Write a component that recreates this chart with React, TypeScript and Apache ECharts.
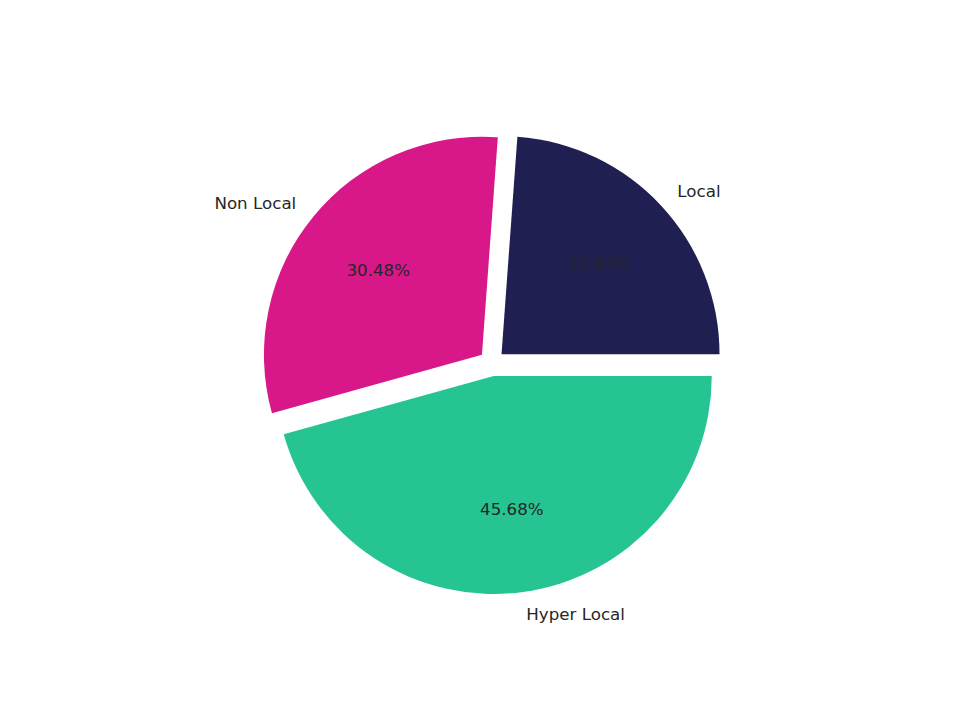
import { useEffect, useRef } from 'react'
import * as echarts from 'echarts'

// ===== 数据 =====
const categories = ['Local', 'Non Local', 'Hyper Local']
const shares = [23.84, 30.48, 45.68]
const colors = ['#1f1f52', '#d81889', '#25c492']

const FONT = '"DejaVu Sans", sans-serif'
const TEXT = '#262626'
const CENTER = [492, 363]
const R = 218
const EXPLODE = 13

export default function App() {
  const ref = useRef<HTMLDivElement>(null)

  useEffect(() => {
    document.body.style.margin = '0'
    if (!ref.current) return
    const chart = echarts.init(ref.current, null, { renderer: 'svg' })

    const base = {
      type: 'pie' as const,
      center: CENTER,
      startAngle: 0,
      clockwise: false,
      selectedMode: 'multiple' as const,
      selectedOffset: EXPLODE,
      avoidLabelOverlap: false,
      emphasis: { disabled: true },
    }

    chart.setOption({
      animation: false,
      backgroundColor: '#ffffff',
      tooltip: { show: false },
      series: [
        {
          ...base,
          name: 'wedges',
          radius: [0, R],
          data: categories.map((c, i) => ({
            name: c,
            value: shares[i],
            selected: true,
            itemStyle: { color: colors[i] },
          })),
          itemStyle: { borderWidth: 0 },
          label: {
            show: true,
            position: 'outside',
            formatter: '{b}',
            color: TEXT,
            fontFamily: FONT,
            fontSize: 16.7,
            distanceToLabelLine: 0,
          },
          labelLine: { show: false, length: 22, length2: 0 },
        },
        {
          ...base,
          name: 'pct',
          silent: true,
          radius: [44, R],
          data: categories.map((c, i) => ({
            name: c,
            value: shares[i],
            selected: true,
          })),
          itemStyle: { color: 'rgba(0,0,0,0)', borderWidth: 0 },
          label: {
            show: true,
            position: 'inside',
            formatter: (p: { value: number }) => `${p.value.toFixed(2)}%`,
            color: TEXT,
            fontFamily: FONT,
            fontSize: 16.7,
          },
          labelLine: { show: false },
        },
      ],
    })

    return () => chart.dispose()
  }, [])

  return <div ref={ref} style={{ width: 960, height: 720 }} />
}
